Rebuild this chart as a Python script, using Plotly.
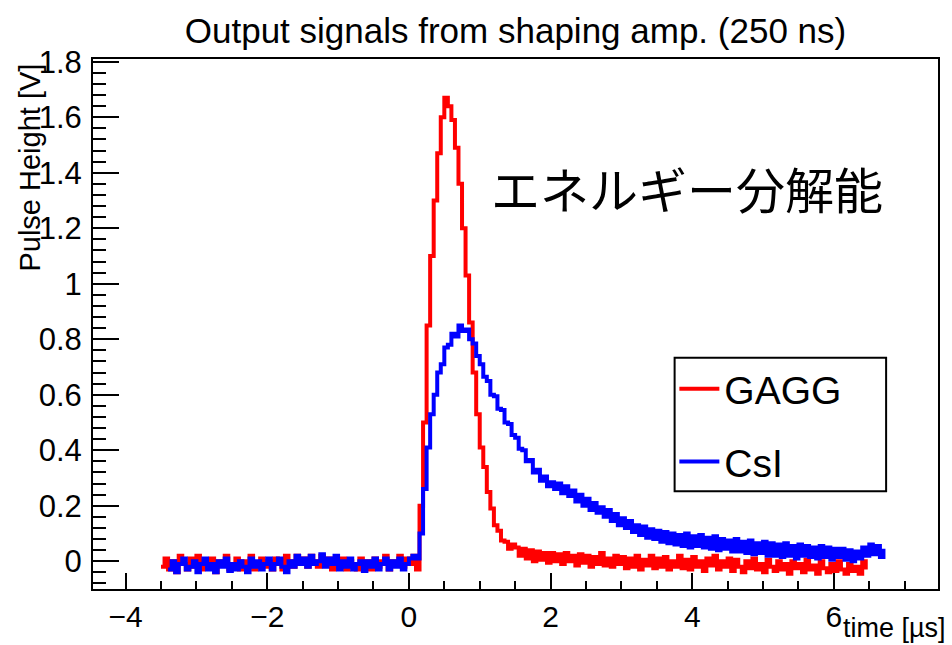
import numpy as np
import plotly.graph_objects as go

# ---------------- data ----------------
TITLE = "Output signals from shaping amp. (250 ns)"
X_TITLE = "time [µs]"
Y_TITLE = "Pulse Height [V]"
NOTE = "エネルギー分解能"
SERIES_NAMES = ["GAGG", "CsI"]

# sampling grid (µs)
GAGG_T_START, GAGG_T_STEP = -3.50, 0.05
CSI_T_START, CSI_T_STEP = -3.40, 0.05

# GAGG pulse height [V], t = -3.50 ... 6.45
GAGG_V = [
    -0.02, 0.01, -0.03, 0.00, -0.04, 0.02, -0.01, -0.03, 0.01, -0.02,
    0.02, -0.03, 0.00, -0.02, 0.01, -0.04, 0.00, -0.01, 0.02, -0.03,
    -0.01, 0.01, -0.03, 0.00, -0.02, 0.02, -0.03, -0.01, 0.01, -0.02,
    0.00, -0.03, 0.01, -0.01, -0.03, 0.02, 0.00, -0.02, 0.02, -0.01,
    0.01, -0.02, 0.02, 0.00, -0.02, 0.02, -0.01, 0.01, -0.03, 0.00,
    -0.02, 0.01, -0.03, 0.00, -0.01, -0.03, 0.01, -0.02, 0.00, -0.03,
    0.01, -0.02, 0.00, 0.02, -0.03, 0.00, -0.01, 0.02, -0.02, 0.01,
    -0.01, 0.02, -0.03, 0.20, 0.50, 0.85, 1.10, 1.30, 1.47, 1.60,
    1.67, 1.64, 1.59, 1.49, 1.36, 1.20, 1.03, 0.86, 0.68, 0.53,
    0.41, 0.34, 0.25, 0.19, 0.13, 0.11, 0.075, 0.07, 0.045, 0.06,
    0.05, 0.02, 0.045, 0.01, 0.04, 0.00, 0.035, 0.005, 0.03, -0.005,
    0.03, 0.00, 0.025, -0.01, 0.03, 0.00, 0.02, -0.015, 0.025, -0.005,
    0.02, -0.02, 0.015, -0.01, 0.03, -0.015, 0.01, -0.02, 0.02, -0.01,
    0.015, -0.025, 0.01, -0.02, 0.02, -0.03, 0.005, -0.015, 0.02, -0.025,
    0.01, -0.02, 0.015, -0.03, 0.00, -0.02, 0.02, -0.025, 0.005, -0.03,
    0.015, -0.02, 0.00, -0.035, 0.01, -0.015, 0.02, -0.03, 0.00, -0.02,
    0.01, -0.035, 0.005, -0.02, -0.04, 0.00, -0.025, 0.01, -0.03, -0.01,
    -0.04, 0.005, -0.02, -0.035, 0.00, -0.03, -0.01, -0.045, 0.00, -0.025,
    -0.01, -0.04, 0.005, -0.03, -0.015, -0.045, 0.00, -0.025, -0.04, -0.01,
    -0.035, 0.00, -0.03, -0.045, -0.01, -0.035, -0.02, -0.045, 0.00, -0.03,
]

# CsI pulse height [V], t = -3.40 ... 6.70
CSI_V = [
    -0.03, 0.00, -0.04, -0.01, 0.01, -0.03, -0.02, 0.00, -0.04, -0.01,
    0.01, -0.03, -0.01, -0.04, 0.00, -0.02, 0.01, -0.035, -0.01, -0.03,
    0.00, -0.02, -0.04, 0.01, -0.02, 0.00, -0.03, -0.01, 0.01, -0.03,
    -0.01, 0.01, -0.02, -0.04, 0.00, -0.02, 0.02, -0.01, 0.01, -0.02,
    0.02, -0.01, 0.00, 0.025, -0.02, 0.01, -0.01, 0.02, -0.03, 0.00,
    -0.02, 0.01, -0.03, -0.01, 0.00, -0.035, 0.00, -0.02, 0.01, -0.03,
    -0.01, 0.01, -0.03, 0.00, -0.02, 0.01, -0.03, -0.01, 0.01, 0.02,
    0.01, 0.10, 0.26, 0.41, 0.53, 0.60, 0.68, 0.71, 0.77, 0.78,
    0.82, 0.81, 0.85, 0.83, 0.835, 0.80, 0.785, 0.74, 0.71, 0.665,
    0.65, 0.60, 0.595, 0.55, 0.545, 0.50, 0.495, 0.455, 0.445, 0.405,
    0.40, 0.36, 0.365, 0.32, 0.33, 0.29, 0.305, 0.27, 0.285, 0.26,
    0.28, 0.245, 0.27, 0.235, 0.255, 0.215, 0.24, 0.20, 0.225, 0.185,
    0.21, 0.175, 0.195, 0.16, 0.185, 0.145, 0.17, 0.13, 0.155, 0.12,
    0.145, 0.105, 0.13, 0.095, 0.125, 0.085, 0.115, 0.08, 0.11, 0.07,
    0.105, 0.065, 0.10, 0.06, 0.095, 0.055, 0.10, 0.05, 0.09, 0.055,
    0.095, 0.05, 0.085, 0.045, 0.09, 0.04, 0.08, 0.045, 0.075, 0.035,
    0.08, 0.035, 0.07, 0.03, 0.075, 0.025, 0.065, 0.03, 0.07, 0.02,
    0.065, 0.02, 0.06, 0.015, 0.065, 0.02, 0.055, 0.01, 0.06, 0.02,
    0.055, 0.015, 0.05, 0.01, 0.055, 0.015, 0.05, 0.005, 0.045, 0.015,
    0.045, 0.005, 0.04, 0.00, 0.035, 0.01, 0.05, 0.02, 0.06, 0.025,
    0.055, 0.015, 0.045,
]

X_RANGE = [-4.46, 7.47]
Y_RANGE = [-0.10, 1.81]

gagg_t = np.round(GAGG_T_START + GAGG_T_STEP * np.arange(len(GAGG_V)), 3)
csi_t = np.round(CSI_T_START + CSI_T_STEP * np.arange(len(CSI_V)), 3)

FONT = "Liberation Sans, Arial, Helvetica, sans-serif"

fig = go.Figure()
fig.add_trace(go.Scatter(x=gagg_t, y=GAGG_V, mode="lines", name=SERIES_NAMES[0],
                         legendgroup="g",
                         line=dict(color="#ff0000", width=4, shape="hv")))
fig.add_trace(go.Scatter(x=csi_t, y=CSI_V, mode="lines", name=SERIES_NAMES[1],
                         legendgroup="c",
                         line=dict(color="#0000ff", width=4, shape="hv")))

axis_common = dict(showgrid=False, zeroline=False, showline=True, linecolor="black",
                   linewidth=2, mirror=True, ticks="inside", tickcolor="black",
                   tickwidth=2)

fig.update_xaxes(range=X_RANGE, tick0=0, dtick=2, ticklen=16,
                 tickfont=dict(family=FONT, size=30, color="black"),
                 minor=dict(dtick=0.5, ticks="inside", ticklen=8, tickwidth=2, tickcolor="black"),
                 **axis_common)
fig.update_yaxes(range=Y_RANGE, tick0=0, dtick=0.2, ticklen=26,
                 tickfont=dict(family=FONT, size=31, color="black"),
                 ticklabelstandoff=3,
                 minor=dict(dtick=0.04, ticks="inside", ticklen=13, tickwidth=2, tickcolor="black"),
                 **axis_common)

# legend frame (paper coordinates of the reference's legend box)
LEGEND_BOX = dict(x0=0.6883, x1=0.9386, y0=0.1842, y1=0.4361)

fig.update_layout(
    width=952, height=645,
    margin=dict(l=93, r=12, t=59, b=55),
    paper_bgcolor="white", plot_bgcolor="white",
    font=dict(family=FONT, color="black"),
    title=dict(text=TITLE, x=0.5, xref="paper", xanchor="center",
               y=1 - 31 / 645, yref="container", yanchor="middle",
               font=dict(family=FONT, size=35, color="black")),
    showlegend=True,
    legend=dict(x=0.688, y=0.438, xanchor="left", yanchor="top",
                borderwidth=0, bgcolor="rgba(0,0,0,0)",
                font=dict(family=FONT, size=39, color="black"),
                tracegroupgap=19, itemwidth=40),
    shapes=[dict(type="rect", xref="paper", yref="paper", layer="above",
                 line=dict(color="black", width=2), fillcolor="rgba(0,0,0,0)",
                 **LEGEND_BOX)],
    annotations=[
        dict(text=NOTE, xref="paper", yref="paper", x=0.7025, y=0.757,
             xanchor="center", yanchor="middle", showarrow=False,
             font=dict(family="Noto Sans CJK JP", size=49, color="black")),
        dict(text=Y_TITLE, xref="paper", yref="paper", x=-0.074, y=0.996,
             xanchor="center", yanchor="top", textangle=-90, showarrow=False,
             font=dict(family=FONT, size=29, color="black")),
        dict(text=X_TITLE, xref="paper", yref="paper", x=1.0115, y=-0.073,
             xanchor="right", yanchor="middle", showarrow=False,
             font=dict(family=FONT, size=27, color="black")),
    ],
)

fig.write_html("out.html")
